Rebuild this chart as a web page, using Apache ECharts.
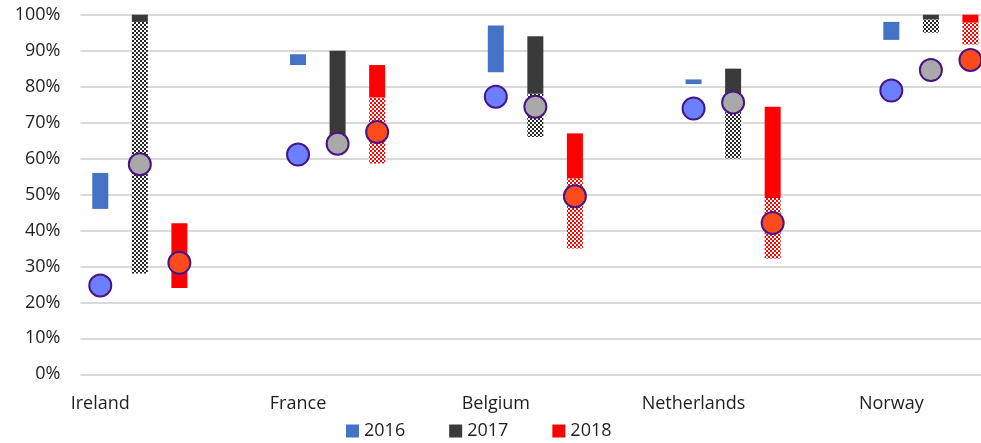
<!DOCTYPE html>
<html>
<head>
<meta charset="utf-8">
<script src="https://cdn.jsdelivr.net/npm/echarts@6/dist/echarts.min.js"></script>
<style>
html,body{margin:0;padding:0;background:#fff;}
#chart{width:981px;height:443px;}
</style>
</head>
<body>
<div id="chart"></div>
<script>
// ---- Data ----
const countries = ['Ireland', 'France', 'Belgium', 'Netherlands', 'Norway'];
const years = ['2016', '2017', '2018'];
const yTicks = [0, 10, 20, 30, 40, 50, 60, 70, 80, 90, 100];

// 2016 range (solid only)
const low2016 = [46, 86, 84, 80.7, 93];
const high2016 = [56, 89, 97, 82, 98];
// 2017 range: solid part low..high, checkered part checkLow..low
const low2017 = [98, 64, 78, 75.6, 98.7];
const high2017 = [100, 90, 94, 85, 100];
const checkLow2017 = [28, null, 66, 60, 95];
// 2018 range
const low2018 = [24, 77, 54.5, 49, 97.8];
const high2018 = [42, 86, 67, 74.4, 100];
const checkLow2018 = [null, 58.6, 35, 32.2, 91.7];
// circles
const point2016 = [24.7, 61.1, 77.2, 73.9, 78.9];
const point2017 = [58.4, 64.1, 74.4, 75.6, 84.6];
const point2018 = [31.0, 67.4, 49.5, 42.1, 87.4];

// ---- Layout of category slots: each country uses 5 slots (3 years + 2 gap) ----
const SLOTS = 5;
const slotCats = [];
countries.forEach(function (c, i) {
  slotCats.push(c, c + ' 2017', c + ' 2018', c + ' gap1', c + ' gap2');
});
const nSlots = (countries.length - 1) * SLOTS + years.length; // 23
slotCats.length = nSlots;

function checker(fg) {
  const cv = document.createElement('canvas');
  cv.width = 4; cv.height = 4;
  const ctx = cv.getContext('2d');
  ctx.fillStyle = '#ffffff';
  ctx.fillRect(0, 0, 4, 4);
  ctx.fillStyle = fg;
  ctx.fillRect(0, 0, 2, 2);
  ctx.fillRect(2, 2, 2, 2);
  return { type: 'pattern', image: cv, repeat: 'repeat' };
}

const colors = ['#4472c4', '#3a3a3a', '#ff0000'];
const patterns = [null, checker('#262626'), checker('#ff0000')];
const pointColors = ['#6b7fff', '#a9a9a9', '#ff4a1c'];

function rangeData(yearIdx, lows, highs, checks) {
  return countries.map(function (c, i) {
    return [i * SLOTS + yearIdx, lows[i], highs[i], checks && checks[i] != null ? checks[i] : null];
  });
}
function pointData(yearIdx, vals) {
  return countries.map(function (c, i) { return [i * SLOTS + yearIdx, vals[i]]; });
}

function makeRender(yearIdx) {
  return function (params, api) {
    const x = api.value(0);
    const lo = api.value(1), hi = api.value(2), ck = api.value(3);
    const pTop = api.coord([x, hi]);
    const pBot = api.coord([x, lo]);
    const w = 16;
    const children = [];
    if (ck != null && !isNaN(ck)) {
      const pCk = api.coord([x, ck]);
      children.push({
        type: 'rect',
        shape: { x: pTop[0] - w / 2, y: pBot[1], width: w, height: pCk[1] - pBot[1] },
        style: { fill: patterns[yearIdx] }
      });
    }
    children.push({
      type: 'rect',
      shape: { x: pTop[0] - w / 2, y: pTop[1], width: w, height: pBot[1] - pTop[1] },
      style: { fill: colors[yearIdx] }
    });
    return { type: 'group', children: children };
  };
}

const rangeSets = [
  rangeData(0, low2016, high2016, null),
  rangeData(1, low2017, high2017, checkLow2017),
  rangeData(2, low2018, high2018, checkLow2018)
];
const pointSets = [pointData(0, point2016), pointData(1, point2017), pointData(2, point2018)];

const series = [];
years.forEach(function (y, k) {
  series.push({
    name: y,
    type: 'custom',
    renderItem: makeRender(k),
    itemStyle: { color: colors[k] },
    encode: { x: 0, y: [1, 2] },
    data: rangeSets[k],
    z: 2,
    clip: false
  });
});
years.forEach(function (y, k) {
  series.push({
    name: y + ' point',
    type: 'scatter',
    symbol: 'circle',
    symbolSize: 22,
    itemStyle: { color: pointColors[k], borderColor: '#4a1486', borderWidth: 2, opacity: 1 },
    data: pointSets[k],
    z: 5
  });
});

const font = '"Open Sans", sans-serif';
const chart = echarts.init(document.getElementById('chart'), null, { renderer: 'canvas' });
chart.setOption({
  animation: false,
  backgroundColor: '#ffffff',
  grid: { left: 80.5, top: 14.7, width: 909.7, bottom: 68.7, containLabel: false, outerBoundsMode: 'none' },
  legend: {
    data: years,
    left: 346,
    top: 422,
    padding: 0,
    icon: 'rect',
    itemWidth: 13,
    itemHeight: 13,
    itemGap: 44,
    textStyle: { fontFamily: font, fontSize: 18, color: '#1f1f1f' }
  },
  xAxis: {
    type: 'category',
    data: slotCats,
    boundaryGap: true,
    axisLine: { show: false },
    axisTick: { show: false },
    splitLine: { show: false },
    axisLabel: {
      interval: 0,
      margin: 21,
      fontFamily: font,
      fontSize: 18,
      color: '#1f1f1f',
      formatter: function (v, idx) { return idx % SLOTS === 0 ? countries[idx / SLOTS] : ''; }
    }
  },
  yAxis: {
    type: 'value',
    min: yTicks[0],
    max: yTicks[yTicks.length - 1],
    interval: yTicks[1] - yTicks[0],
    axisLine: { show: false },
    axisTick: { show: false },
    splitLine: { lineStyle: { color: '#d9d9d9', width: 2 } },
    axisLabel: {
      margin: 20,
      fontFamily: font,
      fontSize: 18,
      color: '#1f1f1f',
      formatter: '{value}%'
    }
  },
  series: series
});
</script>
</body>
</html>
